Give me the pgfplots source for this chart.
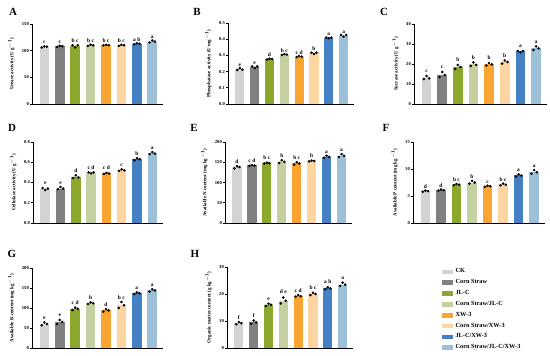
\documentclass[border=0pt]{standalone}
\usepackage{pgfplots}
\pgfplotsset{compat=1.18}
\usepackage{fontspec}
\setmainfont{Liberation Serif}
\definecolor{ck}{RGB}{211,211,211}
\definecolor{cs}{RGB}{128,128,128}
\definecolor{jlc}{RGB}{139,168,45}
\definecolor{csjlc}{RGB}{196,208,160}
\definecolor{xw}{RGB}{250,164,50}
\definecolor{csxw}{RGB}{253,213,160}
\definecolor{jlxw}{RGB}{68,128,196}
\definecolor{allc}{RGB}{155,192,216}
\newcommand\tickf{\fontsize{4.6}{5}\selectfont\bfseries}
\newcommand\labf{\fontsize{5}{6}\selectfont\bfseries}
\newcommand\sigf{\fontsize{5.5}{6}\selectfont\bfseries}
\newcommand\bars[8]{%
 \addplot[ybar,bar shift=0pt,bar width=0.62,fill=ck,draw=none] coordinates{(0,#1)};
 \addplot[ybar,bar shift=0pt,bar width=0.62,fill=cs,draw=none] coordinates{(1,#2)};
 \addplot[ybar,bar shift=0pt,bar width=0.62,fill=jlc,draw=none] coordinates{(2,#3)};
 \addplot[ybar,bar shift=0pt,bar width=0.62,fill=csjlc,draw=none] coordinates{(3,#4)};
 \addplot[ybar,bar shift=0pt,bar width=0.62,fill=xw,draw=none] coordinates{(4,#5)};
 \addplot[ybar,bar shift=0pt,bar width=0.62,fill=csxw,draw=none] coordinates{(5,#6)};
 \addplot[ybar,bar shift=0pt,bar width=0.62,fill=jlxw,draw=none] coordinates{(6,#7)};
 \addplot[ybar,bar shift=0pt,bar width=0.62,fill=allc,draw=none] coordinates{(7,#8)};
}
\pgfplotsset{
 panel/.style={
  scale only axis, height=80bp,
  anchor=south west,
  axis x line*=bottom, axis y line*=left,
  axis line style={-, black, line width=0.9bp},
  xmin=-0.8, xmax=7.7, ymin=0,
  xtick=\empty, ytick pos=left,
  tick align=outside, major tick length=2bp,
  every tick/.style={black, line width=0.7bp},
  /pgf/number format/assume math mode=true,
  yticklabel style={font=\tickf, inner sep=1bp},
  ylabel style={font=\labf, yshift=3bp},
  clip=false,
 },
 dots/.style={only marks, mark=*, mark size=1.1bp, black},
 sig/.style={draw=none, mark=none, nodes near coords, point meta=explicit symbolic,
  nodes near coords style={font=\sigf, anchor=south, inner sep=0.5bp, yshift=1.2bp}},
}
\begin{document}
\begin{tikzpicture}[x=1bp,y=1bp]
\useasboundingbox (0,0) rectangle (550,355);
% panel letters
\node[font=\fontsize{11}{11}\selectfont\bfseries] at (13,343) {A};
\node[font=\fontsize{11}{11}\selectfont\bfseries] at (197,343) {B};
\node[font=\fontsize{11}{11}\selectfont\bfseries] at (384,343) {C};
\node[font=\fontsize{11}{11}\selectfont\bfseries] at (12,227) {D};
\node[font=\fontsize{11}{11}\selectfont\bfseries] at (194,227) {E};
\node[font=\fontsize{11}{11}\selectfont\bfseries] at (386,227) {F};
\node[font=\fontsize{11}{11}\selectfont\bfseries] at (12,101) {G};
\node[font=\fontsize{11}{11}\selectfont\bfseries] at (195,101) {H};

% A
\begin{axis}[panel, at={(32bp,251bp)}, width=131bp, ymax=150, ytick={0,50,100,150},
 ylabel={Urease activity (U g$^{\mathbf{-1}}$)}]
\bars{107}{108}{109}{110}{110}{110}{113}{117}
\addplot[dots] coordinates {(-0.17,106)(0,108)(0.17,107.5)(0.83,107)(1,109)(1.17,108.5)(1.83,110)(2,106)(2.17,110)(2.83,109)(3,111)(3.17,110)(3.83,110)(4,111)(4.17,110.5)(4.83,109)(5,111)(5.17,110)(5.83,112)(6,114)(6.17,113)(6.83,115.5)(7,119)(7.17,117)};
\addplot[sig] coordinates {(0,109)[c] (1,110)[c] (2,111)[b c] (3,111)[b c] (4,111)[b c] (5,111)[b c] (6,114)[a b] (7,119)[a]};
\end{axis}

% B
\begin{axis}[panel, at={(228bp,251bp)}, width=126bp, height=81bp, ymax=0.5, ytick={0,0.1,0.2,0.3,0.4,0.5},
 yticklabel style={/pgf/number format/.cd, fixed, fixed zerofill, precision=1},
 ylabel={Phosphatase activity (U mg$^{\mathbf{-1}}$)}]
\bars{0.215}{0.228}{0.277}{0.305}{0.292}{0.312}{0.408}{0.422}
\addplot[dots] coordinates {(-0.17,0.210)(0,0.222)(0.17,0.212)(0.83,0.232)(1,0.222)(1.17,0.232)(1.83,0.275)(2,0.280)(2.17,0.277)(2.83,0.303)(3,0.308)(3.17,0.305)(3.83,0.290)(4,0.296)(4.17,0.292)(4.83,0.316)(5,0.308)(5.17,0.316)(5.83,0.410)(6,0.406)(6.17,0.410)(6.83,0.426)(7,0.416)(7.17,0.426)};
\addplot[sig] coordinates {(0,0.222)[e] (1,0.232)[e] (2,0.280)[d] (3,0.308)[b c] (4,0.296)[c d] (5,0.316)[b] (6,0.410)[a] (7,0.426)[a]};
\end{axis}

% C
\begin{axis}[panel, at={(414bp,251bp)}, width=133bp, ymax=40, ytick={0,10,20,30,40},
 ylabel={Sucrase activity (U g$^{\mathbf{-1}}$)}]
\bars{13}{14.5}{18.5}{19.8}{19.8}{21}{26.3}{27.8}
\addplot[dots] coordinates {(-0.17,12.5)(0,14)(0.17,12.8)(0.83,13.5)(1,16)(1.17,14.5)(1.83,17.5)(2,19.5)(2.17,18.5)(2.83,19)(3,20.8)(3.17,19.6)(3.83,19.2)(4,20.5)(4.17,19.8)(4.83,20.2)(5,21.8)(5.17,21)(5.83,26.5)(6,25.8)(6.17,26.5)(6.83,27)(7,28.8)(7.17,27.8)};
\addplot[sig] coordinates {(0,15)[c] (1,17)[c] (2,20.5)[b] (3,21.5)[b] (4,21.5)[b] (5,22.5)[b] (6,27.5)[a] (7,29.5)[a]};
\end{axis}

% D
\begin{axis}[panel, at={(33bp,132bp)}, width=130bp, height=81bp, ymax=0.8, ytick={0,0.2,0.4,0.6,0.8},
 yticklabel style={/pgf/number format/.cd, fixed, fixed zerofill, precision=1},
 ylabel={Cellulase activity (U g$^{\mathbf{-1}}$)}]
\bars{0.335}{0.34}{0.455}{0.495}{0.49}{0.52}{0.63}{0.69}
\addplot[dots] coordinates {(-0.17,0.345)(0,0.325)(0.17,0.340)(0.83,0.335)(1,0.355)(1.17,0.340)(1.83,0.445)(2,0.470)(2.17,0.450)(2.83,0.500)(3,0.490)(3.17,0.500)(3.83,0.485)(4,0.495)(4.17,0.488)(4.83,0.515)(5,0.530)(5.17,0.520)(5.83,0.620)(6,0.640)(6.17,0.630)(6.83,0.680)(7,0.700)(7.17,0.685)};
\addplot[sig] coordinates {(0,0.365)[e] (1,0.365)[e] (2,0.48)[d] (3,0.51)[c d] (4,0.505)[c d] (5,0.54)[c] (6,0.65)[b] (7,0.71)[a]};
\end{axis}

% E
\begin{axis}[panel, at={(225bp,132bp)}, width=127bp, height=81bp, ymax=200, ytick={0,50,100,150,200},
 ylabel={Available N content (mg kg$^{\mathbf{-1}}$)}]
\bars{138}{142}{148}{151}{147}{153}{163}{166}
\addplot[dots] coordinates {(-0.17,135)(0,140)(0.17,138)(0.83,141)(1,143)(1.17,142)(1.83,147)(2,149)(2.17,148)(2.83,148)(3,155)(3.17,151)(3.83,144)(4,150)(4.17,147)(4.83,152)(5,154)(5.17,153)(5.83,161)(6,166)(6.17,163)(6.83,163)(7,170)(7.17,166)};
\addplot[sig] coordinates {(0,142)[d] (1,145)[c d] (2,151)[b c] (3,157)[b] (4,152)[b c] (5,156)[b] (6,168)[a] (7,172)[a]};
\end{axis}

% F
\begin{axis}[panel, at={(413bp,132bp)}, width=132bp, height=81bp, ymax=15, ytick={0,5,10,15},
 ylabel={Available P content (mg kg$^{\mathbf{-1}}$)}]
\bars{5.9}{6.1}{7.1}{7.5}{6.8}{7.1}{8.8}{9.4}
\addplot[dots] coordinates {(-0.17,5.8)(0,6.0)(0.17,5.9)(0.83,6.0)(1,6.2)(1.17,6.1)(1.83,7.0)(2,7.2)(2.17,7.1)(2.83,7.3)(3,7.8)(3.17,7.5)(3.83,6.7)(4,6.9)(4.17,6.8)(4.83,7.0)(5,7.3)(5.17,7.1)(5.83,8.6)(6,9.0)(6.17,8.8)(6.83,9.1)(7,9.8)(7.17,9.4)};
\addplot[sig] coordinates {(0,6.1)[d] (1,6.3)[d] (2,7.3)[b c] (3,7.9)[b] (4,7.0)[c] (5,7.4)[b c] (6,9.1)[a] (7,9.9)[a]};
\end{axis}

% G
\begin{axis}[panel, at={(32bp,7bp)}, width=131bp, ymax=200, ytick={0,50,100,150,200},
 ylabel={Available K content (mg kg$^{\mathbf{-1}}$)}]
\bars{60}{65}{98}{112}{94}{107}{137}{144}
\addplot[dots] coordinates {(-0.17,57)(0,64)(0.17,60)(0.83,60)(1,70)(1.17,65)(1.83,95)(2,101)(2.17,98)(2.83,110)(3,114)(3.17,112)(3.83,91)(4,97)(4.17,94)(4.83,100)(5,115)(5.17,107)(5.83,135)(6,139)(6.17,137)(6.83,141)(7,147)(7.17,144)};
\addplot[sig] coordinates {(0,67)[e] (1,73)[e] (2,104)[c d] (3,116)[b] (4,99)[d] (5,117)[b c] (6,142)[a] (7,150)[a]};
\end{axis}

% H
\begin{axis}[panel, at={(227bp,7bp)}, width=126bp, height=81bp, ymax=30, ytick={0,10,20,30},
 ylabel={Organic matter content (g kg$^{\mathbf{-1}}$)}]
\bars{9.2}{9.5}{16}{17.5}{19.2}{20}{22.1}{23.5}
\addplot[dots] coordinates {(-0.17,8.8)(0,9.6)(0.17,9.2)(0.83,9.0)(1,10.2)(1.17,9.5)(1.83,15.6)(2,16.4)(2.17,16)(2.83,16.5)(3,18.7)(3.17,17.5)(3.83,19)(4,19.6)(4.17,19.2)(4.83,19.6)(5,20.5)(5.17,20)(5.83,21.8)(6,22.5)(6.17,22.1)(6.83,23)(7,24.2)(7.17,23.5)};
\addplot[sig] coordinates {(0,10)[f] (1,10.7)[f] (2,17)[e] (3,19.3)[d e] (4,20)[c d] (5,21)[b c] (6,23)[a b] (7,24.8)[a]};
\end{axis}

% legend
\begin{axis}[at={(442bp,4bp)}, anchor=south west, scale only axis, width=100bp, height=85bp,
 hide axis, xmin=0, xmax=1, ymin=0, ymax=1,
 legend style={at={(0,0)}, anchor=south west, draw=none, fill=none,
  font=\fontsize{6.3}{7}\selectfont\bfseries, row sep=4.2bp, column sep=2.5bp, inner sep=0pt,
  nodes={inner sep=0.5bp}},
 legend cell align=left,
 legend image code/.code={\fill[#1] (0bp,-1.8bp) rectangle (10bp,1.8bp);}]
\addlegendimage{ck}\addlegendentry{CK}
\addlegendimage{cs}\addlegendentry{Corn Straw}
\addlegendimage{jlc}\addlegendentry{JL-C}
\addlegendimage{csjlc}\addlegendentry{Corn Straw/JL-C}
\addlegendimage{xw}\addlegendentry{XW-3}
\addlegendimage{csxw}\addlegendentry{Corn Straw/XW-3}
\addlegendimage{jlxw}\addlegendentry{JL-C/XW-3}
\addlegendimage{allc}\addlegendentry{Corn Straw/JL-C/XW-3}
\end{axis}
\end{tikzpicture}
\end{document}
